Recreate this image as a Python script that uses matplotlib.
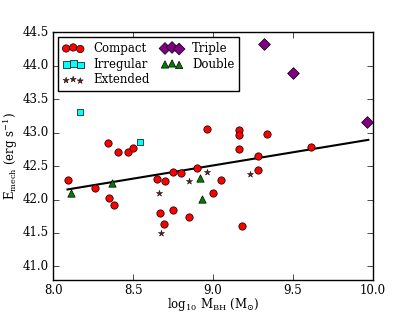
import numpy as np
import matplotlib
matplotlib.use('Agg')
import matplotlib.pyplot as plt

plt.style.use('classic')
plt.rcParams['font.family'] = ['DejaVu Serif']
plt.rcParams['mathtext.fontset'] = 'dejavuserif'
plt.rcParams['figure.facecolor'] = 'white'
plt.rcParams['savefig.facecolor'] = 'white'

# Compact sources
compact_x = [8.09, 8.26, 8.34, 8.405, 8.47, 8.50, 8.35, 8.38, 8.96, 9.16, 9.16, 9.16,
             9.28, 8.75, 8.80, 8.90, 8.65, 8.70, 9.05, 9.00, 8.75, 8.67, 8.85, 8.69,
             9.18, 9.28, 9.34, 9.61]
compact_y = [42.29, 42.17, 42.85, 42.71, 42.71, 42.77, 42.03, 41.92, 43.05, 43.04, 42.96, 42.76,
             42.65, 42.41, 42.40, 42.47, 42.31, 42.28, 42.29, 42.10, 41.85, 41.80, 41.74, 41.64,
             41.61, 42.44, 42.98, 42.79]
# Irregular
irr_x = [8.17, 8.54]
irr_y = [43.30, 42.86]
# Extended
ext_x = [8.66, 8.675, 8.85, 8.96, 9.23]
ext_y = [42.09, 41.50, 42.27, 42.41, 42.38]
# Triple
tri_x = [9.32, 9.50, 9.96]
tri_y = [44.32, 43.89, 43.16]
# Double
dbl_x = [8.11, 8.37, 8.92, 8.93]
dbl_y = [42.10, 42.25, 42.32, 42.01]

# linear fit parameters
fit_slope = 0.394
fit_intercept = 42.115
fit_range = [8.09, 9.97]

fig = plt.figure(figsize=(4.15, 3.12), dpi=100)
ax = fig.add_axes([0.128, 0.103, 0.771, 0.794])

ax.scatter(compact_x, compact_y, s=28, c='red', marker='o', edgecolors='k', linewidths=0.5, label='Compact', zorder=3)
ax.scatter(irr_x, irr_y, s=24, c='cyan', marker='s', edgecolors='k', linewidths=0.5, label='Irregular', zorder=3)
ax.scatter(ext_x, ext_y, s=22, c='#6b1a1a', marker='*', edgecolors='k', linewidths=0.3, label='Extended', zorder=3)
ax.scatter(tri_x, tri_y, s=36, c='purple', marker='D', edgecolors='k', linewidths=0.5, label='Triple', zorder=3)
ax.scatter(dbl_x, dbl_y, s=28, c='green', marker='^', edgecolors='k', linewidths=0.5, label='Double', zorder=3)

xf = np.array(fit_range)
ax.plot(xf, fit_intercept + fit_slope * (xf - 8.0), 'k-', lw=1.5, zorder=2)

ax.set_xlim(8.0, 10.0)
ax.set_ylim(40.8, 44.5)
ax.set_xticks([8.0, 8.5, 9.0, 9.5, 10.0])
ax.set_yticks([41.0, 41.5, 42.0, 42.5, 43.0, 43.5, 44.0, 44.5])
ax.tick_params(labelsize=8.5, length=4, pad=3, direction='in', top=True, right=True)
for lab in ax.get_xticklabels() + ax.get_yticklabels():
    lab.set_family('DejaVu Serif')

ax.set_xlabel(r'log$_{10}$ M$_{\rm BH}$ (M$_{\odot}$)', fontsize=8.5, labelpad=-1)
ax.set_ylabel(r'E$_{\rm mech}$ (erg s$^{-1}$)', fontsize=8.5, labelpad=2)

leg = ax.legend(loc='upper left', ncol=2, scatterpoints=3, fontsize=8.5, frameon=True,
                handlelength=1.8, handletextpad=0.8, columnspacing=1.0, labelspacing=0.25,
                borderaxespad=0.4, borderpad=0.4)
for t in leg.get_texts():
    t.set_family('DejaVu Serif')

fig.savefig('out.png', dpi=100)
